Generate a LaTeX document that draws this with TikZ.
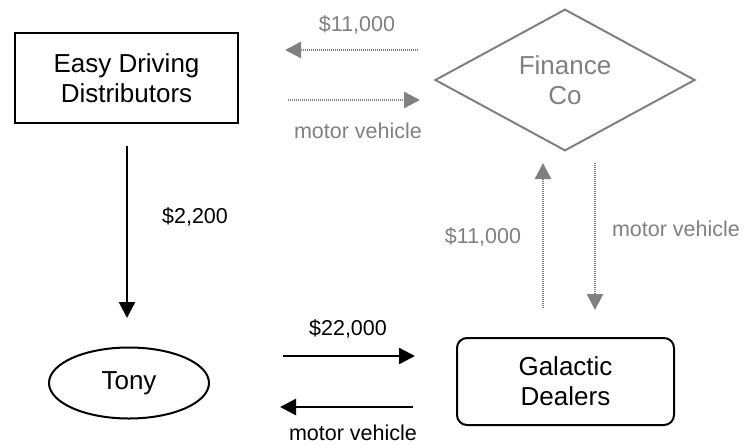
\documentclass[tikz,border=0pt]{standalone}
\usepackage{fontspec}
\setmainfont{Liberation Sans}
\usetikzlibrary{shapes.geometric,arrows.meta}
\definecolor{midgray}{RGB}{128,128,128}
\tikzset{
  party/.style={draw,line width=1pt,inner sep=0pt,align=center,font=\fontsize{13}{15}\selectfont},
  flow/.style={line width=1.2pt,-{Triangle[length=8pt,width=8pt]}},
  loan/.style={flow,midgray,dash pattern=on 0.6pt off 0.4pt},
  tag/.style={inner sep=0pt,font=\fontsize{10.75}{13}\selectfont}
}
\begin{document}
\begin{tikzpicture}
  [x=0.5pt,y=-0.5pt]
  \useasboundingbox (0,0) rectangle (747,444);
  \node (edd)[party,minimum width=111.5pt,minimum height=45pt] at (126.5,78) {Easy Driving\\Distributors};
  \node (fin)[party,diamond,draw=midgray,text=midgray,minimum width=130pt,minimum height=67pt] at (565,80) {Finance\\Co};
  \node (tony)[party,ellipse,minimum width=80pt,minimum height=35.5pt] at (129,383) {Tony};
  \node (gal)[party,rounded corners=5pt,minimum width=108.5pt,minimum height=43.5pt] at (565.5,381.5) {Galactic\\Dealers};

  \coordinate (a1) at (418,50);  \coordinate (a2) at (285,50);
  \coordinate (b1) at (288,100); \coordinate (b2) at (420,100);
  \coordinate (c1) at (127,146); \coordinate (c2) at (127,318);
  \coordinate (d1) at (283,356); \coordinate (d2) at (415,356);
  \coordinate (e1) at (413,407); \coordinate (e2) at (280,407);
  \coordinate (f1) at (543,308); \coordinate (f2) at (543,163);
  \coordinate (g1) at (595,163); \coordinate (g2) at (595,310);

  \node (ta)[tag,text=midgray] at (357,25) {\$11,000};
  \node (tb)[tag,text=midgray] at (358,131) {motor vehicle};
  \node (tc)[tag] at (195,217) {\$2,200};
  \node (td)[tag] at (348,329) {\$22,000};
  \node (te)[tag] at (353,433) {motor vehicle};
  \node (tf)[tag,text=midgray] at (483,237) {\$11,000};
  \node (tg)[tag,text=midgray] at (676,229) {motor vehicle};

  \foreach \from/\to in {c1/c2,d1/d2,e1/e2}
    \draw[flow] (\from) -- (\to);
  \foreach \from/\to in {a1/a2,b1/b2,f1/f2,g1/g2}
    \draw[loan] (\from) -- (\to);
\end{tikzpicture}
\end{document}
